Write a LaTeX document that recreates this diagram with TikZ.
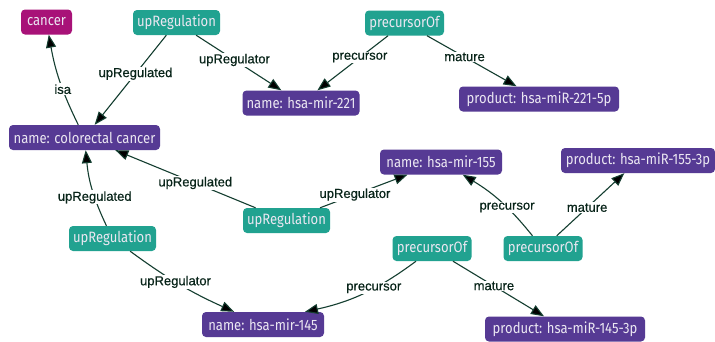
\documentclass[tikz,border=0pt]{standalone}
\usepackage{fontspec}
\setmainfont{Liberation Sans}
\newfontfamily\nodefont{Fira Sans}[FakeStretch=0.87]
\newfontfamily\labfont{Liberation Sans}[FakeBold=0.5]
\usetikzlibrary{arrows.meta}
\definecolor{tealn}{RGB}{33,162,144}
\definecolor{purpn}{RGB}{86,58,148}
\definecolor{magn}{RGB}{168,18,120}
\definecolor{edgec}{RGB}{20,62,48}
\definecolor{labc}{RGB}{8,36,25}
\begin{document}
\begin{tikzpicture}[x=1pt,y=-1pt,
 box/.style={rounded corners=4pt, minimum height=25pt, inner xsep=3pt, inner ysep=0pt,
   text=white!88!purpn, font=\nodefont\fontsize{15}{15}\selectfont},
 rel/.style={box, fill=tealn},
 ent/.style={box, fill=purpn},
 cls/.style={box, fill=magn},
 conn/.style={draw=edgec, line width=1.1pt, -{Triangle[length=13pt,width=10pt,fill=black]}},
 lab/.style={fill=white, inner sep=1pt, text=labc, font=\labfont\fontsize{13}{13}\selectfont}
]
\clip (0,0) rectangle (715,341);
\fill[white] (0,0) rectangle (715,341);

\node[cls, minimum width=51pt]  (cancer) at (46.5,22) {cancer};
\node[rel, minimum width=87pt]  (up1)    at (176.5,22.5) {upRegulation};
\node[rel, minimum width=79pt]  (pre1)   at (404.5,23) {precursorOf};
\node[ent, minimum width=117pt] (m221)   at (301,103) {name: hsa-mir-221};
\node[ent, minimum width=160pt] (p221)   at (539,99) {product: hsa-miR-221-5p};
\node[ent, minimum width=151pt] (cc)     at (84.5,137.5) {name: colorectal cancer};
\node[ent, minimum width=122pt] (m155)   at (441,162) {name: hsa-mir-155};
\node[ent, minimum width=154pt] (p155)   at (638,160.5) {product: hsa-miR-155-3p};
\node[rel, minimum width=87pt]  (up2)    at (286.5,220.5) {upRegulation};
\node[rel, minimum width=87pt]  (up3)    at (112.5,238.5) {upRegulation};
\node[rel, minimum width=79pt]  (pre2)   at (432,248.5) {precursorOf};
\node[rel, minimum width=79pt]  (pre3)   at (543,248.5) {precursorOf};
\node[ent, minimum width=122pt] (m145)   at (263,324.5) {name: hsa-mir-145};
\node[ent, minimum width=160pt] (p145)   at (565,329) {product: hsa-miR-145-3p};

\draw[conn] (cc) to[bend left=8] node[lab,pos=0.4]{isa} (cancer);
\draw[conn] (up1) -- node[lab,pos=0.43]{upRegulated} (cc);
\draw[conn] (up1) -- node[lab,pos=0.45]{upRegulator} (m221);
\draw[conn] (pre1) -- node[lab,pos=0.4]{precursor} (m221);
\draw[conn] (pre1) -- node[lab,pos=0.42]{mature} (p221);
\draw[conn] (up2) -- node[lab,pos=0.43]{upRegulated} (cc);
\draw[conn] (up2) -- node[lab,pos=0.4]{upRegulator} (m155);
\draw[conn] (up3) to[bend left=10] node[lab,pos=0.38]{upRegulated} (cc);
\draw[conn] (up3) to[bend right=6] node[lab,pos=0.45]{upRegulator} (m145);
\draw[conn] (pre2) to[bend left=12] node[lab,pos=0.4]{precursor} ([xshift=42pt]m145.north);
\draw[conn] (pre2) -- node[lab,pos=0.45]{mature} (p145);
\draw[conn] (pre3) to[bend right=10] node[lab,pos=0.4]{precursor} (m155);
\draw[conn] (pre3) -- node[lab,pos=0.45]{mature} (p155);
\end{tikzpicture}
\end{document}
